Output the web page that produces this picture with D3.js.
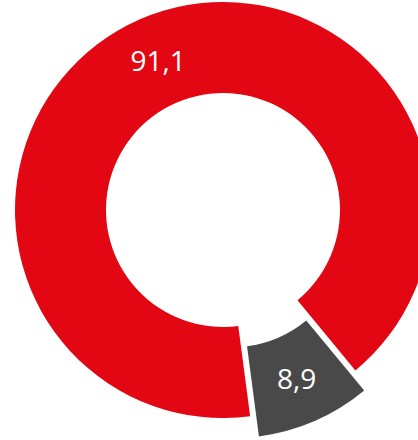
<!DOCTYPE html>
<html>
<head>
<meta charset="utf-8">
<script src="https://cdn.jsdelivr.net/npm/d3@7"></script>
<style>
html,body{margin:0;padding:0;background:#fff;overflow:hidden;}
</style>
</head>
<body>
<svg id="chart" width="418" height="440"></svg>
<script>
const categories = ["A", "B"];
const values = [91.1, 8.9];
const labels = ["91,1", "8,9"];
const colors = ["#E30613", "#494949"];
const exploded = [false, true];

const svg = d3.select("#chart");
const cx = 223, cy = 210, R = 208, r = 117, explode = 22;
const deg = Math.PI / 180;

const pie = d3.pie().sort(null).value(d => d.value)
  .startAngle(172.5 * deg).endAngle((172.5 + 360) * deg);
const data = categories.map((c, i) => ({cat: c, value: values[i], label: labels[i], color: colors[i], ex: exploded[i]}));
const arcs = pie(data);
const arc = d3.arc().innerRadius(r).outerRadius(R);

const g = svg.append("g").attr("transform", `translate(${cx},${cy})`);
const slices = g.selectAll("g.slice").data(arcs).join("g")
  .attr("class", "slice")
  .attr("transform", d => {
    if (!d.data.ex) return null;
    const a = (d.startAngle + d.endAngle) / 2;
    return `translate(${explode * Math.sin(a)},${-explode * Math.cos(a)})`;
  });
slices.append("path").attr("d", arc).attr("fill", d => d.data.color);
slices.append("text")
  .attr("transform", d => `translate(${arc.centroid(d)})`)
  .attr("text-anchor", "middle")
  .attr("dy", "0.36em")
  .attr("fill", "#fff")
  .style("font-family", "'Open Sans', sans-serif")
  .style("font-size", "28px")
  .text(d => d.data.label);
</script>
</body>
</html>
